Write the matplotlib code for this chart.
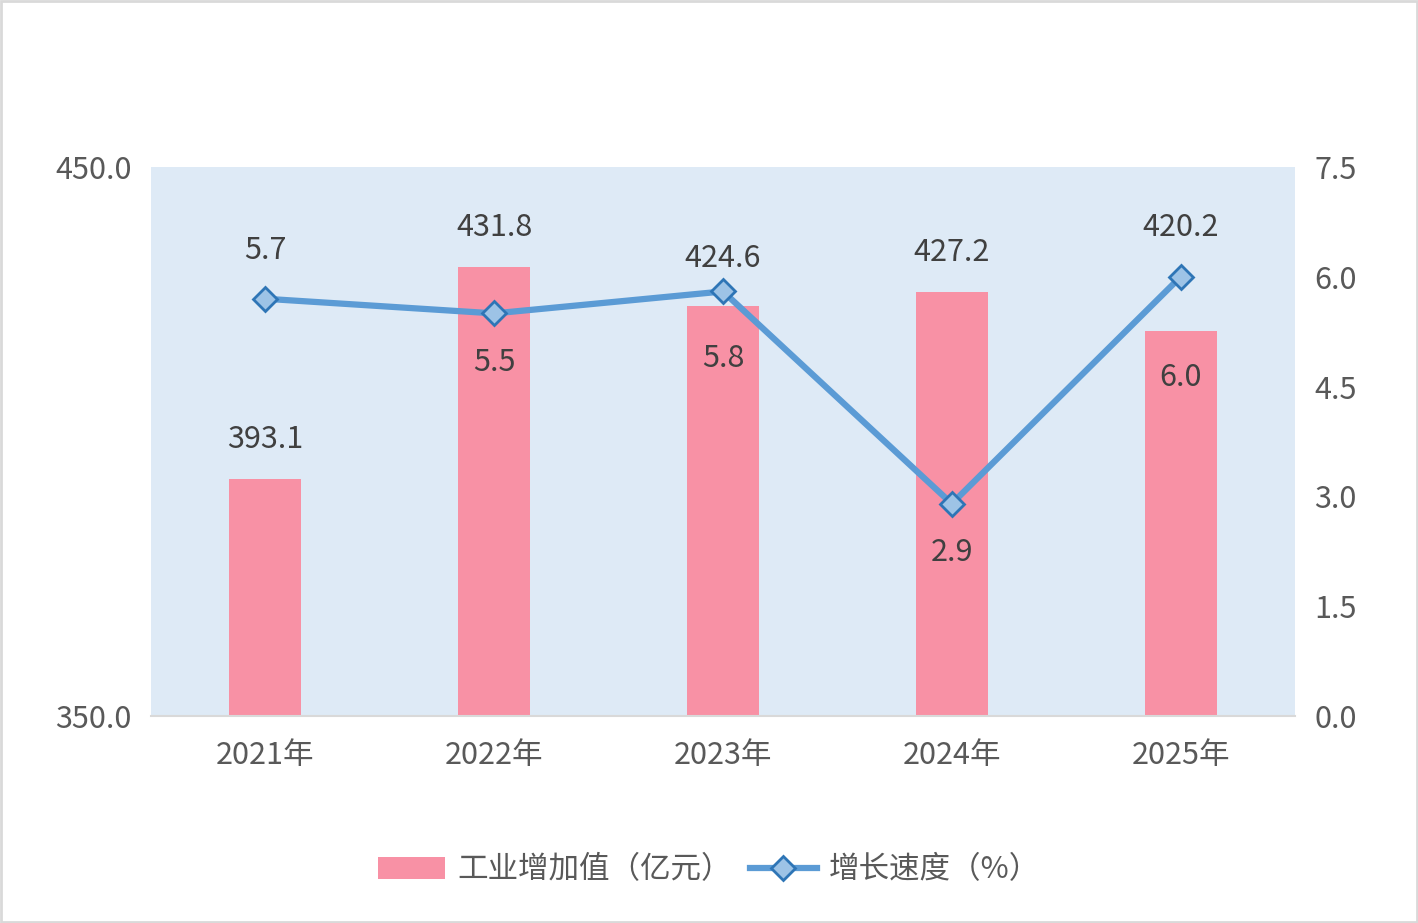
import matplotlib.pyplot as plt
from matplotlib.patches import Rectangle

plt.rcParams['font.family'] = ['Noto Sans CJK SC', 'DejaVu Sans']

years = ['2021年', '2022年', '2023年', '2024年', '2025年']
value_added = [393.1, 431.8, 424.6, 427.2, 420.2]
growth = [5.7, 5.5, 5.8, 2.9, 6.0]

# label offsets in pixels (positive = up)
bar_label_dy = [40, 39, 48, 40, 103]
line_label_dy = [48, -49, -67, -49, -101]

fs = 22

fig = plt.figure(figsize=(14.18, 9.23), dpi=100)
ax = fig.add_axes([151 / 1418, 1 - 716 / 923, (1295 - 151) / 1418, (716 - 167) / 923])
ax.set_facecolor('#DEEAF6')

x = list(range(len(years)))
bars = ax.bar(x, [v - 350 for v in value_added], bottom=350, width=0.315,
              color='#F891A5', label='工业增加值（亿元）', zorder=2)
ax.set_xlim(-0.5, 4.5)
ax.set_ylim(350, 450)
ax.set_yticks([350, 450])
ax.set_yticklabels(['350.0', '450.0'])
ax.set_xticks(x)
ax.set_xticklabels(years)

ax2 = ax.twinx()
line, = ax2.plot(x, growth, color='#5B9BD5', lw=4.5, marker='D', ms=12,
                 mfc='#9DC3E6', mec='#2E75B6', mew=2, label='增长速度（%）', zorder=3)
ax2.set_ylim(0, 7.5)
ax2.set_yticks([0, 1.5, 3, 4.5, 6, 7.5])
ax2.set_yticklabels(['0.0', '1.5', '3.0', '4.5', '6.0', '7.5'])

for a in (ax, ax2):
    for s in a.spines.values():
        s.set_visible(False)
    a.tick_params(length=0, labelsize=fs, labelcolor='#595959')
ax.spines['bottom'].set_visible(True)
ax.spines['bottom'].set_color('#D9D9D9')
ax.spines['bottom'].set_linewidth(1.5)
ax.tick_params(axis='y', pad=14)
ax.tick_params(axis='x', pad=17)
ax2.tick_params(axis='y', pad=14)

for i, v in enumerate(value_added):
    ax.annotate(f'{v:.1f}', (i, v), xytext=(0, bar_label_dy[i] * 0.72),
                textcoords='offset points', ha='center', va='center',
                fontsize=fs, color='#404040')
for i, v in enumerate(growth):
    ax2.annotate(f'{v:.1f}', (i, v), xytext=(0, line_label_dy[i] * 0.72),
                 textcoords='offset points', ha='center', va='center',
                 fontsize=fs, color='#404040')

fig.legend([bars, line], ['工业增加值（亿元）', '增长速度（%）'], loc='center',
           bbox_to_anchor=(0.5, 1 - 870 / 923), ncol=2, frameon=False,
           fontsize=fs, labelcolor='#595959', handlelength=2.2,
           handleheight=0.7, columnspacing=0.6, handletextpad=0.4)

fig.patches.append(Rectangle((0.001, 0.001), 0.998, 0.998, transform=fig.transFigure,
                             fill=False, edgecolor='#D9D9D9', lw=2))

fig.savefig('out.png', dpi=100)
